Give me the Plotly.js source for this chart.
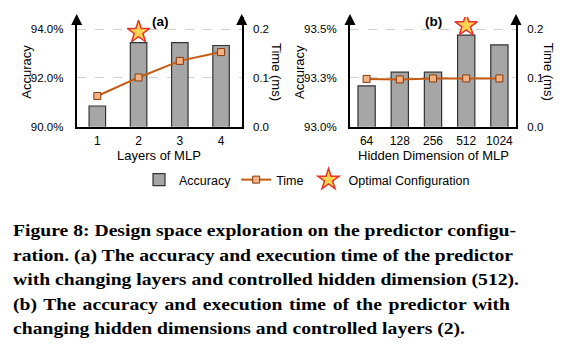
<!DOCTYPE html>
<html>
<head>
<meta charset="utf-8">
<script src="https://cdn.plot.ly/plotly-3.0.1.min.js"></script>
<style>
  html, body { margin: 0; padding: 0; background: #fff; }
  #wrap { position: relative; width: 573px; height: 351px; overflow: hidden; }
  #chart { position: absolute; left: 0; top: 0; width: 573px; height: 351px; }
  #caption { position: absolute; left: 13px; top: 218px;
    font-family: "Liberation Serif", "Times New Roman", serif; font-weight: bold;
    font-size: 17.5px; line-height: 24.6px; color: #000;
    transform-origin: 0 0; }
  #caption div.j { text-align: justify; text-align-last: justify; white-space: nowrap; }
  #caption div.l { text-align: left; white-space: nowrap; }
</style>
</head>
<body>
<div id="wrap">
  <div id="chart"></div>
  <div id="caption"></div>
</div>
<script>
// ---- data ----
const layersCats = ['1', '2', '3', '4'];
const layersAcc = [90.85, 93.45, 93.45, 93.33];
const layersTime = [0.063, 0.101, 0.135, 0.153];

const dimCats = ['64', '128', '256', '512', '1024'];
const dimAcc = [93.21, 93.28, 93.28, 93.47, 93.42];
const dimTime = [0.098, 0.097, 0.099, 0.099, 0.099];

const optimalA_x = ['2'];
const optimalA_y = [93.88];
const optimalB_x = ['512'];
const optimalB_y = [93.52];

const accTicksA = [90, 92, 94];
const accTickTextA = ['90.0%', '92.0%', '94.0%'];
const accTicksB = [93, 93.25, 93.5];
const accTickTextB = ['93.0%', '93.3%', '93.5%'];
const timeTicks = [0, 0.1, 0.2];
const timeTickText = ['0.0', '0.1', '0.2'];

const captionLines = [
  'Figure 8: Design space exploration on the predictor configu-',
  'ration. (a) The accuracy and execution time of the predictor',
  'with changing layers and controlled hidden dimension (512).',
  '(b) The accuracy and execution time of the predictor with',
  'changing hidden dimensions and controlled layers (2).'
];

// ---- styles ----
const barColor = '#a6a6a6';
const barLine = '#333333';
const lineColor = '#c55a11';
const markerFill = '#f4b183';
const markerLine = '#843c0c';
const starFill = '#ffd44f';
const starLine = '#e5322d';
const font = 'Liberation Sans, Arial, sans-serif';

function bars(x, y, xa, ya, show, w) {
  return { type: 'bar', x: x, y: y, xaxis: xa, yaxis: ya, name: 'Accuracy',
    legendgroup: 'acc', showlegend: show, width: w,
    marker: { color: barColor, line: { color: barLine, width: 1.2 } } };
}
function timeLine(x, y, xa, ya, show) {
  return { type: 'scatter', mode: 'lines+markers', x: x, y: y, xaxis: xa, yaxis: ya,
    name: 'Time', legendgroup: 'time', showlegend: show,
    line: { color: lineColor, width: 2 },
    marker: { symbol: 'square', size: 7, color: markerFill, line: { color: markerLine, width: 1 } } };
}
function star(x, y, xa, ya, show) {
  return { type: 'scatter', mode: 'markers', x: x, y: y, xaxis: xa, yaxis: ya,
    name: 'Optimal Configuration', legendgroup: 'opt', showlegend: show,
    marker: { symbol: 'star', size: 17, color: starFill, line: { color: starLine, width: 1.5 } } };
}

const data = [
  bars(layersCats, layersAcc, 'x', 'y', true, 0.4),
  timeLine(layersCats, layersTime, 'x', 'y2', true),
  star(optimalA_x, optimalA_y, 'x', 'y', true),
  bars(dimCats, dimAcc, 'x3', 'y3', false, 0.52),
  timeLine(dimCats, dimTime, 'x3', 'y4', false),
  star(optimalB_x, optimalB_y, 'x3', 'y3', false)
];

const W = 573, H = 351;
const px = v => v / W;
const py = v => 1 - v / H;
const yDom = [py(126.7), py(17)];

function xAxis(dom, anchor) {
  return { domain: dom, anchor: anchor, type: 'category', showline: true, linecolor: '#000',
    linewidth: 2, ticks: 'outside', ticklen: 2, tickcolor: 'rgba(0,0,0,0)',
    tickfont: { size: 12, color: '#000', family: font }, showgrid: false, zeroline: false, fixedrange: true };
}
function accAxis(range, tv, tt, anchor) {
  return { domain: yDom, anchor: anchor, range: range, tickvals: tv, ticktext: tt,
    showline: true, linecolor: '#000', linewidth: 2, ticks: 'outside', ticklen: 9,
    tickcolor: 'rgba(0,0,0,0)', tickfont: { size: 11.5, color: '#000', family: font },
    showgrid: true, gridcolor: '#d0d0d0', griddash: 'dash', gridwidth: 1, zeroline: false, fixedrange: true };
}
function timeAxis(over, anchor) {
  return { domain: yDom, overlaying: over, anchor: anchor, side: 'right', range: [0, 0.225],
    tickvals: timeTicks, ticktext: timeTickText, showline: true, linecolor: '#000', linewidth: 2,
    ticks: 'outside', ticklen: 7, tickcolor: 'rgba(0,0,0,0)',
    tickfont: { size: 11.5, color: '#000', family: font }, showgrid: false, zeroline: false, fixedrange: true };
}

const axA = [76.7, 241.7];
const axB = [350, 516];

function arrow(xp) {
  return { xref: 'paper', yref: 'paper', x: px(xp), y: py(14), ax: 0, ay: 12, text: '',
    showarrow: true, arrowhead: 2, arrowsize: 1.1, arrowwidth: 2, arrowcolor: '#000' };
}
function txt(x, y, t, opts) {
  return Object.assign({ xref: 'paper', yref: 'paper', x: px(x), y: py(y), text: t,
    showarrow: false, xanchor: 'center', yanchor: 'middle',
    font: { size: 13, color: '#000', family: font } }, opts || {});
}

const layout = {
  width: W, height: H, margin: { l: 0, r: 0, t: 0, b: 0 },
  paper_bgcolor: '#fff', plot_bgcolor: 'rgba(0,0,0,0)',
  bargap: 0.4, showlegend: true,
  font: { family: font, color: '#000' },
  xaxis: xAxis([px(axA[0]), px(axA[1])], 'y'),
  yaxis: accAxis([90, 94.5], accTicksA, accTickTextA, 'x'),
  yaxis2: timeAxis('y', 'x'),
  xaxis3: xAxis([px(axB[0]), px(axB[1])], 'y3'),
  yaxis3: accAxis([93, 93.563], accTicksB, accTickTextB, 'x3'),
  yaxis4: timeAxis('y3', 'x3'),
  legend: { orientation: 'h', x: px(139), xanchor: 'left', y: py(180), yanchor: 'middle',
    font: { size: 12.5, color: '#000', family: font }, bgcolor: 'rgba(0,0,0,0)',
    traceorder: 'normal' },
  annotations: [
    arrow(axA[0]), arrow(axA[1]), arrow(axB[0]), arrow(axB[1]),
    txt(160, 21.7, '<b>(a)</b>', { font: { size: 13.5, color: '#000', family: font } }),
    txt(433.3, 21.7, '<b>(b)</b>', { font: { size: 13.5, color: '#000', family: font } }),
    txt(26.7, 72, 'Accuracy', { textangle: -90 }),
    txt(276, 72, 'Time (ms)', { textangle: 90 }),
    txt(300, 72, 'Accuracy', { textangle: -90 }),
    txt(548.3, 72, 'Time (ms)', { textangle: 90 }),
    txt(159.2, 155.5, 'Layers of MLP'),
    txt(433, 155.5, 'Hidden Dimension of MLP')
  ]
};

Plotly.newPlot('chart', data, layout, { staticPlot: true, displayModeBar: false });

// caption: real text, lines justified to the reference width
const cap = document.getElementById('caption');
captionLines.forEach((t, i) => {
  const d = document.createElement('div');
  d.className = i < captionLines.length - 1 ? 'j' : 'l';
  d.textContent = t;
  cap.appendChild(d);
});
// measure the last (left-aligned) line and stretch horizontally to the reference width
const probe = document.createElement('span');
probe.textContent = captionLines[captionLines.length - 1];
probe.style.whiteSpace = 'nowrap';
cap.lastChild.textContent = '';
cap.lastChild.appendChild(probe);
const natural = probe.getBoundingClientRect().width;
const targetLast = 452, targetFull = 497;
const s = targetLast / natural;
cap.style.width = (targetFull / s) + 'px';
cap.style.transform = 'scaleX(' + s + ')';
</script>
</body>
</html>
